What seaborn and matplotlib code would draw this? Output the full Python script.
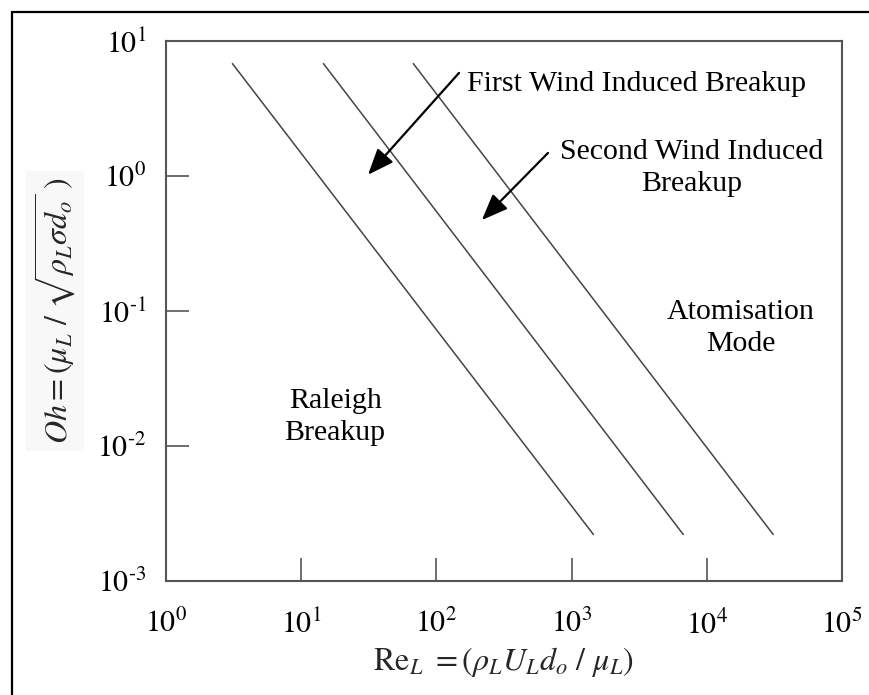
import numpy as np
import pandas as pd
import matplotlib
matplotlib.use("Agg")
import matplotlib.pyplot as plt
from matplotlib.lines import Line2D
import seaborn as sns

# Regime boundaries on the Ohnesorge chart (start / end points of each line)
boundary_names = ["Rayleigh / First wind", "First / Second wind", "Second wind / Atomisation"]
re_start = [3.1, 14.6, 67.5]
re_end = [1450.0, 6700.0, 31000.0]
oh_start = [6.8, 6.8, 6.8]
oh_end = [0.0022, 0.0022, 0.0022]

x_ticks = [1e0, 1e1, 1e2, 1e3, 1e4, 1e5]
x_tick_labels = ["$10^{0}$", "$10^{1}$", "$10^{2}$", "$10^{3}$", "$10^{4}$", "$10^{5}$"]
y_ticks = [1e-3, 1e-2, 1e-1, 1e0, 1e1]
y_tick_labels = [r"$10^{\text{-}3}$", r"$10^{\text{-}2}$", r"$10^{\text{-}1}$", "$10^{0}$", "$10^{1}$"]

rows = []
for name, x0, x1, y0, y1 in zip(boundary_names, re_start, re_end, oh_start, oh_end):
    rows.append({"boundary": name, "Re": x0, "Oh": y0})
    rows.append({"boundary": name, "Re": x1, "Oh": y1})
df = pd.DataFrame(rows)

sns.set_theme(style="white")
plt.rcParams["font.family"] = ["Liberation Serif", "DejaVu Serif"]
plt.rcParams["mathtext.fontset"] = "stix"

fig = plt.figure(figsize=(8.7, 6.95), dpi=100)
ax = fig.add_axes([166 / 870, 1 - 580.7 / 695, (842 - 166) / 870, (580.7 - 41) / 695])

line_color = "#444444"
sns.lineplot(data=df, x="Re", y="Oh", units="boundary", estimator=None,
             color=line_color, linewidth=1.1, ax=ax, legend=False)

ax.set_xscale("log")
ax.set_yscale("log")
ax.set_xlim(1e0, 1e5)
ax.set_ylim(1e-3, 1e1)
ax.set_xticks(x_ticks)
ax.set_xticklabels(x_tick_labels)
ax.set_yticks(y_ticks)
ax.set_yticklabels(y_tick_labels)
ax.minorticks_off()

spine_color = "#555555"
for s in ax.spines.values():
    s.set_color(spine_color)
    s.set_linewidth(1.5)
ax.tick_params(axis="both", which="major", direction="in", length=16.5, width=1.2,
               color=spine_color, labelsize=21.5, labelcolor="black",
               bottom=True, left=True, top=False, right=False)
ax.tick_params(axis="x", pad=21)
ax.tick_params(axis="y", pad=14)

ax.set_xlabel(r"$\mathrm{Re}_L\ = (\rho_L U_L d_o\ /\ \mu_L)$", fontsize=23, labelpad=4)
ax.set_ylabel(r"$Oh = (\mu_L\ /\ \sqrt{\rho_L \sigma d_o}\ )$", fontsize=23, labelpad=14,
              bbox=dict(boxstyle="square,pad=0.2", facecolor="#f8f8f8", edgecolor="none"))

txt_kw = dict(fontsize=21.5, color="black", linespacing=1.3)
ax.text(168, 4.8, "First Wind Induced Breakup", ha="left", va="center", **txt_kw)
ax.text(7780, 1.14, "Second Wind Induced\nBreakup", ha="center", va="center", **txt_kw)
ax.text(17900, 0.0746, "Atomisation\nMode", ha="center", va="center", **txt_kw)
ax.text(17.8, 0.0163, "Raleigh\nBreakup", ha="center", va="center", **txt_kw)

arrow_kw = dict(arrowstyle="-|>,head_length=0.8,head_width=0.32", color="black",
                lw=1.6, mutation_scale=20, shrinkA=0, shrinkB=0)
ax.annotate("", xy=(31.2, 1.02), xytext=(147, 5.8), arrowprops=arrow_kw)
ax.annotate("", xy=(217, 0.471), xytext=(669, 1.48), arrowprops=arrow_kw)

# Frame around the figure (top and left edges)
fig.add_artist(Line2D([12 / 870, 1.01], [1 - 12 / 695, 1 - 12 / 695],
                      transform=fig.transFigure, color="black", lw=1.6))
fig.add_artist(Line2D([12 / 870, 12 / 870], [1 - 12 / 695, -0.01],
                      transform=fig.transFigure, color="black", lw=1.6))

fig.savefig("out.png", dpi=100, facecolor="white")
